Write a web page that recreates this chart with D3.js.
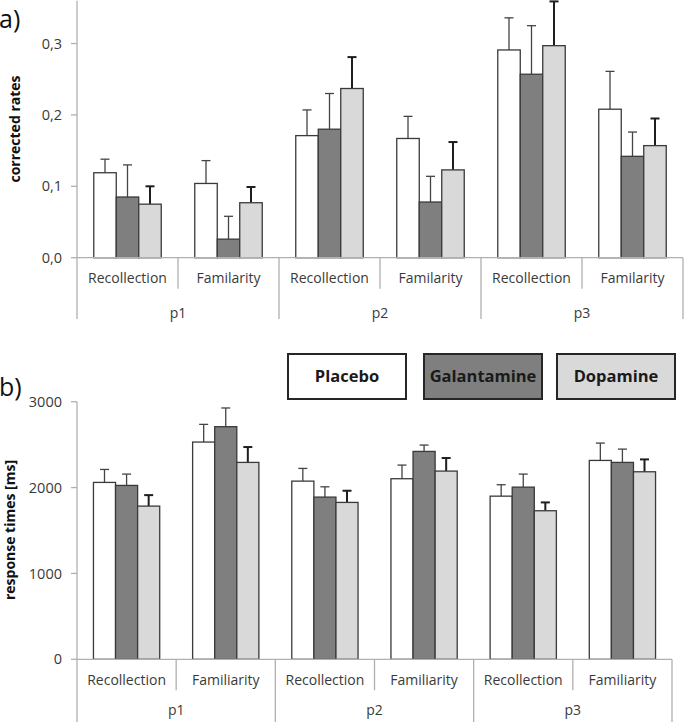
<!DOCTYPE html>
<html>
<head>
<meta charset="utf-8">
<script src="https://cdn.jsdelivr.net/npm/d3@7"></script>
<style>
  html, body { margin: 0; padding: 0; background: #fff; }
  svg { display: block; }
  text { font-family: "Open Sans", "Liberation Sans", sans-serif; }
</style>
</head>
<body>
<svg id="chart" width="685" height="722"></svg>
<script>
// ---------- data ----------
const series = ["Placebo", "Galantamine", "Dopamine"];
const seriesFill = ["#ffffff", "#7f7f7f", "#d9d9d9"];
const groups = ["p1", "p2", "p3"];
const subCatsA = ["Recollection", "Familarity"];
const subCatsB = ["Recollection", "Familiarity"];

// panel a) corrected rates (p1-Rec, p1-Fam, p2-Rec, p2-Fam, p3-Rec, p3-Fam)
const ratesPlacebo     = [0.119, 0.104, 0.171, 0.167, 0.291, 0.208];
const ratesGalantamine = [0.085, 0.026, 0.180, 0.078, 0.257, 0.142];
const ratesDopamine    = [0.075, 0.077, 0.237, 0.123, 0.297, 0.157];
const ratesErrPlacebo     = [0.019, 0.032, 0.036, 0.031, 0.045, 0.053];
const ratesErrGalantamine = [0.045, 0.032, 0.050, 0.036, 0.068, 0.034];
const ratesErrDopamine    = [0.025, 0.022, 0.044, 0.039, 0.062, 0.038];
const ratesTicks = [0, 0.1, 0.2, 0.3];
const ratesTickLabels = ["0,0", "0,1", "0,2", "0,3"];

// panel b) response times [ms]
const rtPlacebo     = [2060, 2530, 2075, 2103, 1900, 2316];
const rtGalantamine = [2025, 2709, 1889, 2421, 2005, 2293];
const rtDopamine    = [1784, 2293, 1827, 2192, 1730, 2184];
const rtErrPlacebo     = [151, 206, 148, 159, 133, 202];
const rtErrGalantamine = [132, 218, 120, 74, 152, 155];
const rtErrDopamine    = [128, 179, 136, 152, 97, 144];
const rtTicks = [0, 1000, 2000, 3000];
const rtTickLabels = ["0", "1000", "2000", "3000"];

// ---------- drawing ----------
const svg = d3.select("#chart");
const axisColor = "#b0b0b0";
const textColor = "#3a3a3a";

function panel(cfg) {
  const g = svg.append("g");
  const catKeys = d3.range(6);
  const x0 = d3.scaleBand().domain(catKeys).range([cfg.left, cfg.right]);
  const x1 = d3.scaleBand().domain(series).range([0, x0.bandwidth()]).paddingOuter(0.745);
  const xg = d3.scaleBand().domain(groups).range([cfg.left, cfg.right]);
  const y = d3.scaleLinear().domain(cfg.domain).range([cfg.base, cfg.top]);

  const vals = [cfg.v0, cfg.v1, cfg.v2];
  const errs = [cfg.e0, cfg.e1, cfg.e2];
  const rows = [];
  catKeys.forEach(c => series.forEach((s, si) => rows.push({c, s, si, v: vals[si][c], e: errs[si][c]})));

  // y axis line
  g.append("line").attr("x1", cfg.left).attr("x2", cfg.left)
    .attr("y1", y(cfg.domain[1])).attr("y2", cfg.longBottom)
    .attr("stroke", axisColor).attr("stroke-width", 1.3);

  // y ticks
  const ticks = g.append("g");
  cfg.ticks.forEach((t, i) => {
    ticks.append("line").attr("x1", cfg.left - 6).attr("x2", cfg.left)
      .attr("y1", y(t)).attr("y2", y(t)).attr("stroke", axisColor).attr("stroke-width", 1.3);
    ticks.append("text").attr("x", cfg.left - 15).attr("y", y(t)).attr("dy", "0.35em")
      .attr("text-anchor", "end").attr("font-size", 14.5).attr("fill", textColor)
      .text(cfg.tickLabels[i]);
  });

  // error bars (behind bars)
  const eb = g.append("g");
  rows.forEach(d => {
    const cx = x0(d.c) + x1(d.s) + x1.bandwidth() / 2;
    const col = d.si === 2 ? "#1e1e1e" : "#444";
    const w = d.si === 2 ? 2 : 1.3;
    eb.append("line").attr("x1", cx).attr("x2", cx).attr("y1", y(d.v)).attr("y2", y(d.v + d.e))
      .attr("stroke", col).attr("stroke-width", w);
    eb.append("line").attr("x1", cx - 4.5).attr("x2", cx + 4.5).attr("y1", y(d.v + d.e)).attr("y2", y(d.v + d.e))
      .attr("stroke", col).attr("stroke-width", w);
  });

  // bars
  g.append("g").selectAll("rect").data(rows).join("rect")
    .attr("x", d => x0(d.c) + x1(d.s))
    .attr("width", x1.bandwidth())
    .attr("y", d => y(d.v))
    .attr("height", d => cfg.base - y(d.v))
    .attr("fill", d => seriesFill[d.si])
    .attr("stroke", "#3a3a3a").attr("stroke-width", 1.3);

  // baseline
  g.append("line").attr("x1", cfg.left).attr("x2", cfg.right)
    .attr("y1", cfg.base).attr("y2", cfg.base)
    .attr("stroke", axisColor).attr("stroke-width", 1.3);

  // category separators and labels
  catKeys.forEach(c => {
    const xe = x0(c) + x0.bandwidth();
    const isGroupEnd = (c % 2 === 1);
    g.append("line").attr("x1", xe).attr("x2", xe)
      .attr("y1", cfg.base).attr("y2", isGroupEnd ? cfg.longBottom : cfg.base + 31)
      .attr("stroke", axisColor).attr("stroke-width", 1.3);
    g.append("text").attr("x", x0(c) + x0.bandwidth() / 2).attr("y", cfg.catY)
      .attr("dy", "0.35em").attr("text-anchor", "middle").attr("font-size", 14)
      .attr("fill", textColor).text(cfg.subCats[c % 2]);
  });
  groups.forEach(gr => {
    g.append("text").attr("x", xg(gr) + xg.bandwidth() / 2).attr("y", cfg.groupY)
      .attr("dy", "0.35em").attr("text-anchor", "middle").attr("font-size", 14)
      .attr("fill", textColor).text(gr);
  });

  // y title
  g.append("text").attr("transform", `translate(${cfg.titleX},${cfg.titleY}) rotate(-90)`)
    .attr("text-anchor", "middle").attr("dy", "0.35em")
    .attr("font-size", 14).attr("font-weight", "bold").attr("fill", "#111")
    .text(cfg.title);

  // panel letter
  g.append("text").attr("x", -1).attr("y", cfg.letterY)
    .attr("font-size", 25).attr("fill", "#111").text(cfg.letter);
}

panel({
  left: 77, right: 683, base: 257.7, top: 0.7, domain: [0, 0.36],
  ticks: ratesTicks, tickLabels: ratesTickLabels,
  v0: ratesPlacebo, v1: ratesGalantamine, v2: ratesDopamine,
  e0: ratesErrPlacebo, e1: ratesErrGalantamine, e2: ratesErrDopamine,
  subCats: subCatsA, catY: 278, groupY: 313, longBottom: 319,
  title: "corrected rates", titleX: 15, titleY: 129, letter: "a)", letterY: 28
});

panel({
  left: 77, right: 672, base: 659.3, top: 401.7, domain: [0, 3000],
  ticks: rtTicks, tickLabels: rtTickLabels,
  v0: rtPlacebo, v1: rtGalantamine, v2: rtDopamine,
  e0: rtErrPlacebo, e1: rtErrGalantamine, e2: rtErrDopamine,
  subCats: subCatsB, catY: 680, groupY: 710, longBottom: 722,
  title: "response times [ms]", titleX: 10, titleY: 530, letter: "b)", letterY: 396
});

// legend
const legendX = [288, 424, 557];
const legend = svg.append("g");
series.forEach((s, i) => {
  legend.append("rect").attr("x", legendX[i]).attr("y", 354).attr("width", 118).attr("height", 45)
    .attr("fill", seriesFill[i]).attr("stroke", "#262626").attr("stroke-width", 2);
  legend.append("text").attr("x", legendX[i] + 59).attr("y", 376.5).attr("dy", "0.35em")
    .attr("text-anchor", "middle").attr("font-size", 16.5).attr("font-weight", "bold")
    .attr("fill", "#1a1a1a").text(s);
});
</script>
</body>
</html>
